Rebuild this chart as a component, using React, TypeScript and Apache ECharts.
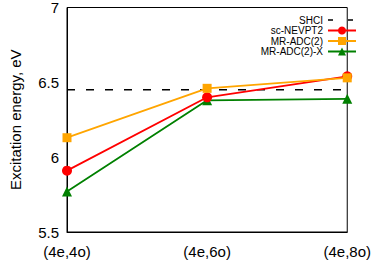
import React, { useEffect, useRef } from "react";
import * as echarts from "echarts";

const categories = ["(4e,4o)", "(4e,6o)", "(4e,8o)"];
const yTicks = [5.5, 6, 6.5, 7];
const shci = [6.45, 6.45, 6.45];
const scNevpt2 = [5.91, 6.4, 6.54];
const mrAdc2 = [6.13, 6.46, 6.53];
const mrAdc2X = [5.77, 6.38, 6.39];

const FONT = "'Liberation Sans', Arial, Helvetica, sans-serif";

export default function App() {
  const ref = useRef<HTMLDivElement>(null);
  useEffect(() => {
    document.body.style.margin = "0";
    if (!ref.current) return;
    const chart = echarts.init(ref.current, undefined, { renderer: "svg" });
    chart.setOption({
      animation: false,
      backgroundColor: "#ffffff",
      textStyle: { fontFamily: FONT },
      grid: {
        left: 55,
        right: 6,
        top: 6,
        bottom: 28,
        show: true,
        borderColor: "#000",
        borderWidth: 1,
        backgroundColor: "transparent",
      },
      legend: {
        orient: "vertical",
        align: "right",
        right: 12,
        top: 10,
        itemWidth: 28,
        itemHeight: 10,
        itemGap: 0.5,
        textStyle: { fontSize: 10, color: "#000", fontFamily: FONT, lineHeight: 10 },
        data: [
          {
            name: "SHCI",
            itemStyle: { color: "rgba(0,0,0,0)", borderWidth: 0, opacity: 0 },
            lineStyle: { type: [5, 15], color: "#000", width: 1.5 },
          },
          "sc-NEVPT2",
          "MR-ADC(2)",
          "MR-ADC(2)-X",
        ],
      },
      xAxis: {
        type: "category",
        data: categories,
        boundaryGap: false,
        axisLine: { lineStyle: { color: "#000", width: 1 } },
        axisTick: { show: false },
        axisLabel: { color: "#000", fontSize: 15, margin: 12, fontFamily: FONT },
        splitLine: { show: false },
      },
      yAxis: {
        type: "value",
        min: yTicks[0],
        max: yTicks[yTicks.length - 1],
        interval: 0.5,
        name: "Excitation energy, eV",
        nameLocation: "middle",
        nameGap: 44,
        nameTextStyle: { color: "#000", fontSize: 15, fontFamily: FONT },
        axisLine: { show: true, lineStyle: { color: "#000", width: 1 } },
        axisTick: { show: false },
        axisLabel: { color: "#000", fontSize: 15, margin: 8, fontFamily: FONT },
        splitLine: { show: false },
      },
      series: [
        {
          name: "SHCI",
          type: "line",
          data: shci,
          symbol: "none",
          lineStyle: { color: "#000", width: 1.5, type: [8, 11] },
          itemStyle: { color: "#000" },
          z: 1,
        },
        {
          name: "MR-ADC(2)-X",
          type: "line",
          data: mrAdc2X,
          symbol: "triangle",
          symbolSize: 10,
          lineStyle: { color: "#008000", width: 1.8 },
          itemStyle: { color: "#008000" },
          z: 2,
        },
        {
          name: "sc-NEVPT2",
          type: "line",
          data: scNevpt2,
          symbol: "circle",
          symbolSize: 10,
          lineStyle: { color: "#ff0000", width: 1.8 },
          itemStyle: { color: "#ff0000" },
          z: 3,
        },
        {
          name: "MR-ADC(2)",
          type: "line",
          data: mrAdc2,
          symbol: "rect",
          symbolSize: 9,
          lineStyle: { color: "#ffa500", width: 1.8 },
          itemStyle: { color: "#ffa500" },
          z: 4,
        },
      ],
    });
    return () => chart.dispose();
  }, []);
  return <div ref={ref} style={{ width: 374, height: 260 }} />;
}
